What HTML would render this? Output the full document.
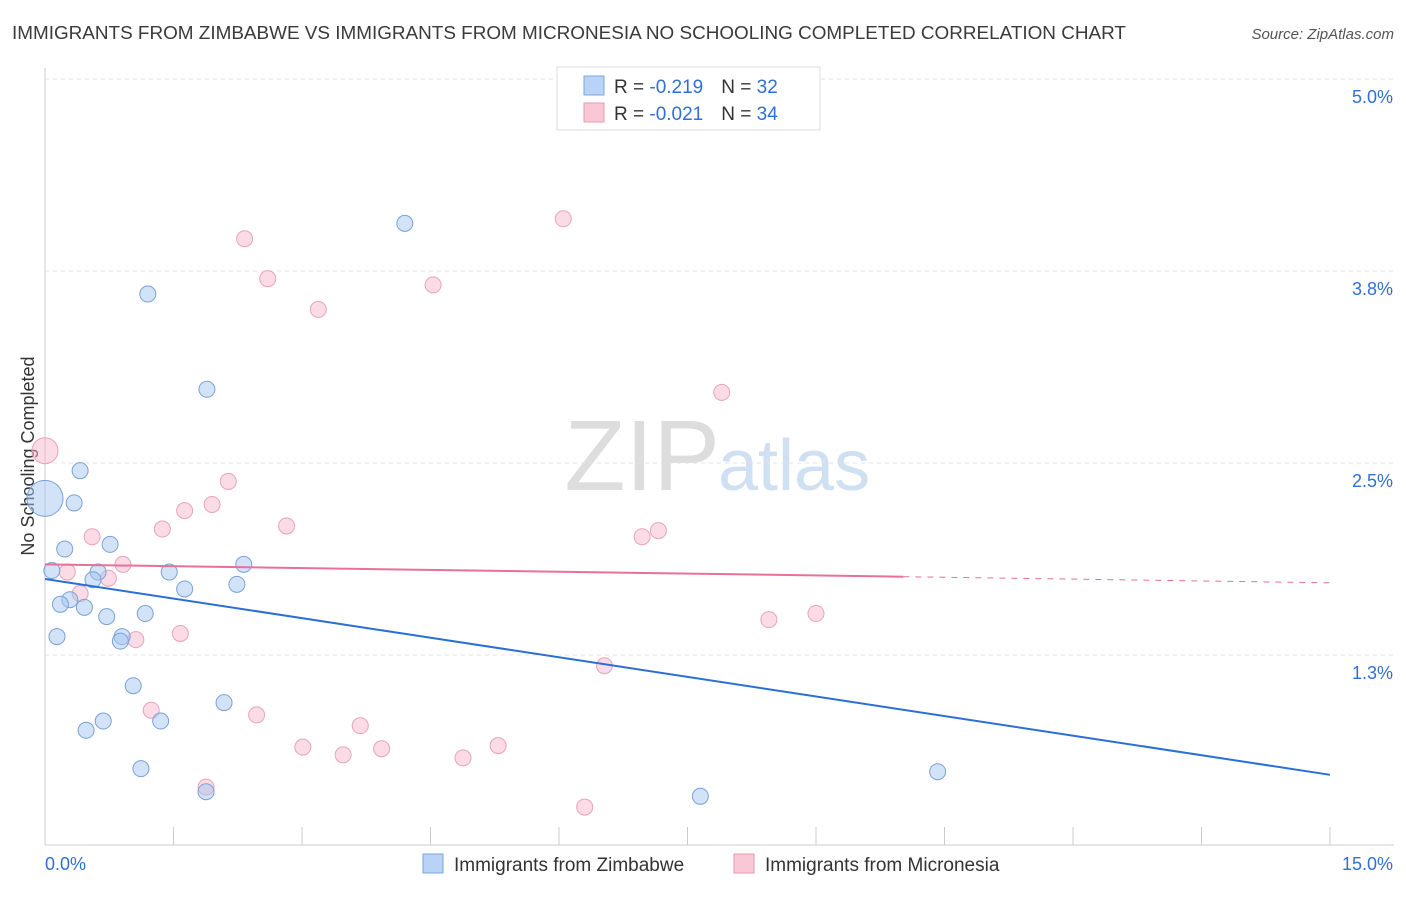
<!DOCTYPE html>
<html><head><meta charset="utf-8"><style>
body{margin:0;background:#fff;font-family:"Liberation Sans",sans-serif;}
svg text{font-family:"Liberation Sans",sans-serif;}
</style></head><body>
<svg id="chart" width="1406" height="892">
<text x="12" y="39" font-size="18.9" fill="#3a3a3a">IMMIGRANTS FROM ZIMBABWE VS IMMIGRANTS FROM MICRONESIA NO SCHOOLING COMPLETED CORRELATION CHART</text>
<text x="1394" y="39" font-size="15" fill="#555" font-style="italic" text-anchor="end">Source: ZipAtlas.com</text>
<text x="720" y="490" font-size="100" fill="#ddd" text-anchor="end" font-family="Liberation Serif">ZIP</text>
<text x="718" y="490" font-size="72" fill="#cfe0f3">atlas</text>
<text transform="translate(34,456) rotate(-90)" font-size="18" fill="#333" text-anchor="middle">No Schooling Completed</text>
<g id="grid"></g><g id="marks"></g>
<g>
<rect x="557" y="67" width="263" height="63" fill="#fff" stroke="#ddd"/>
<rect x="584" y="76" width="20" height="19" fill="#b8d3f5" stroke="#7aa7e0"/>
<rect x="584" y="103" width="20" height="19" fill="#f9c7d6" stroke="#e99ab2"/>
<text x="614" y="93" font-size="19" fill="#333">R = <tspan fill="#2f6fd6">-0.219</tspan><tspan dx="18">N = </tspan><tspan fill="#2f6fd6">32</tspan></text>
<text x="614" y="120" font-size="19" fill="#333">R = <tspan fill="#2f6fd6">-0.021</tspan><tspan dx="18">N = </tspan><tspan fill="#2f6fd6">34</tspan></text>
</g>
<g>
<rect x="423" y="854" width="20" height="19" fill="#b8d3f5" stroke="#7aa7e0"/>
<text x="454" y="871" font-size="19" fill="#333">Immigrants from Zimbabwe</text>
<rect x="734" y="854" width="20" height="19" fill="#f9c7d6" stroke="#e99ab2"/>
<text x="765" y="871" font-size="19" fill="#333">Immigrants from Micronesia</text>
</g>
</svg>
<script>
const yTicks=[5.0,3.75,2.5,1.25];
const yTickLabels=["5.0%","3.8%","2.5%","1.3%"];
const xTickVals=[0,1.5,3,4.5,6,7.5,9,10.5,12,13.5,15];
const blueX=[0,0.41,0.34,0.23,0.76,0.08,0.62,0.56,0.29,0.18,0.46,0.72,1.17,1.45,1.63,2.32,2.24,0.14,0.90,0.88,1.03,0.68,0.48,1.35,2.09,1.12,1.88,1.20,1.89,4.20,7.65,10.42];
const blueY=[2.27,2.45,2.24,1.94,1.97,1.80,1.79,1.74,1.61,1.58,1.56,1.50,1.52,1.79,1.68,1.84,1.71,1.37,1.37,1.34,1.05,0.82,0.76,0.82,0.94,0.51,0.36,3.60,2.98,4.06,0.33,0.49];
const pinkX=[0,2.33,2.60,3.19,4.53,6.05,7.90,2.14,1.63,1.95,1.37,2.82,0.55,6.97,7.16,0.26,0.74,0.91,0.41,1.06,1.58,8.45,9.00,6.53,1.24,2.47,3.68,3.01,3.48,3.93,4.88,5.29,1.88,6.30];
const pinkY=[2.58,3.96,3.70,3.50,3.66,4.09,2.96,2.38,2.19,2.23,2.07,2.09,2.02,2.02,2.06,1.79,1.75,1.84,1.65,1.35,1.39,1.48,1.52,1.18,0.89,0.86,0.79,0.65,0.60,0.64,0.58,0.66,0.39,0.26];
const blueTrend=[1.745,0.47];
const pinkTrend=[1.84,1.72];
const pinkSolidEnd=10.02;
const X=v=>45+v*(1285/15), Y=v=>847-v*153.6;
const NS="http://www.w3.org/2000/svg";
const grid=document.getElementById('grid'), marks=document.getElementById('marks');
function mk(tag,attrs,parent){const e=document.createElementNS(NS,tag);for(const k in attrs)e.setAttribute(k,attrs[k]);parent.appendChild(e);return e;}
yTicks.forEach((t,i)=>{
 const l=mk('line',{x1:45,x2:1394,y1:Y(t),y2:Y(t),stroke:'#e3e3e3','stroke-dasharray':'4,4'},grid);
 
 
 const tx=mk('text',{x:1393,y:Y(t)+24,'font-size':18,fill:'#2f6fd6','text-anchor':'end'},grid);
 tx.textContent=yTickLabels[i];
 
 
});
const ax=mk('line',{x1:45,x2:1394,y1:845,y2:845,stroke:'#ccc'},grid);


const ay=mk('line',{x1:45,x2:45,y1:68,y2:845,stroke:'#ccc'},grid);


xTickVals.forEach(t=>{
 const l=mk('line',{x1:X(t),x2:X(t),y1:827,y2:845,stroke:'#ccc'},grid);
 
 
});
const x0=mk('text',{x:45,y:870,'font-size':18,fill:'#2f6fd6'},grid);x0.textContent=xTickVals[0].toFixed(1)+'%';


const x1=mk('text',{x:1393,y:870,'font-size':18,fill:'#2f6fd6','text-anchor':'end'},grid);x1.textContent=xTickVals[xTickVals.length-1].toFixed(1)+'%';


pinkX.forEach((v,i)=>{
 const c=mk('circle',{cx:X(v),cy:Y(pinkY[i]),r:i===0?13:8,fill:'rgba(246,175,198,0.45)',stroke:'#eaa3bb','stroke-width':1},marks);
 
 
});
blueX.forEach((v,i)=>{
 const c=mk('circle',{cx:X(v),cy:Y(blueY[i]),r:i===0?18:8,fill:'rgba(165,198,240,0.5)',stroke:'#7aa2d8','stroke-width':1},marks);
 
 
});
const bl=mk('line',{x1:X(0),y1:Y(blueTrend[0]),x2:X(15),y2:Y(blueTrend[1]),stroke:'#2a6fd6','stroke-width':2},marks);


const pm=pinkTrend[0]+(pinkTrend[1]-pinkTrend[0])*pinkSolidEnd/15;
const pl=mk('line',{x1:X(0),y1:Y(pinkTrend[0]),x2:X(pinkSolidEnd),y2:Y(pm),stroke:'#e8709a','stroke-width':2},marks);


const pd=mk('line',{x1:X(pinkSolidEnd),y1:Y(pm),x2:X(15),y2:Y(pinkTrend[1]),stroke:'#e8709a','stroke-width':1,'stroke-dasharray':'6,6'},marks);


</script>
</body></html>
